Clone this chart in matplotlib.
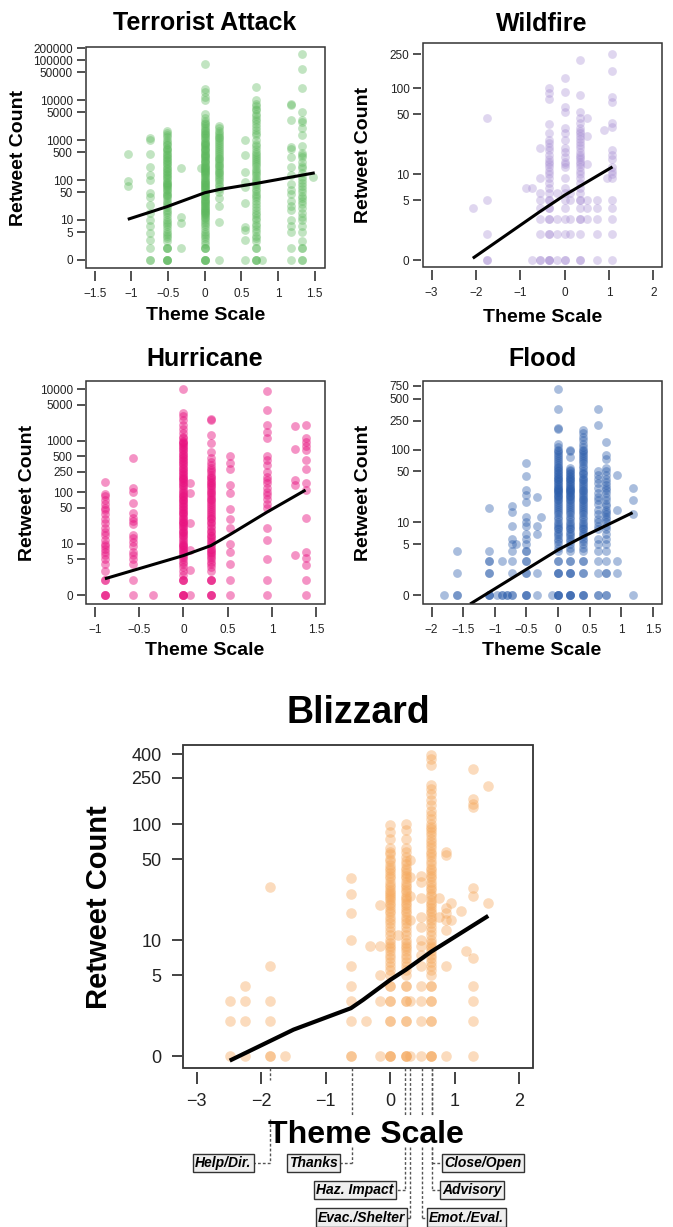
import matplotlib
matplotlib.use("Agg")
import matplotlib.pyplot as plt
import numpy as np
from matplotlib.lines import Line2D
from matplotlib.patches import Rectangle
from matplotlib.ticker import NullLocator

plt.rcParams['font.family'] = ['Liberation Sans', 'DejaVu Sans']

# ---- Terrorist Attack ----
terror_x = [-1.05, -0.75, -0.52, -0.32, -0.05, 0.0, 0.2, 0.55, 0.7, 0.78, 1.18, 1.32, 1.48]
terror_y = [
    [450, 95, 70],
    [1130, 1000, 435, 210, 130, 100, 46, 38, 24, 15, 10, 7, 4.6, 3.2, 2, 0, 0],
    [1700, 1500, 1300, 1200, 1000, 900, 800, 750, 650, 600, 550, 500, 460, 420, 380, 350,
     320, 300, 270, 250, 220, 200, 190, 170, 160, 140, 130, 120, 110, 100, 90, 85, 80, 75,
     70, 65, 60, 55, 50, 45, 42, 40, 35, 30, 27, 24, 21, 18, 16, 14, 12, 10, 9, 8, 7, 6,
     5, 4.5, 4, 3.5, 3, 2, 2, 2, 0, 0, 0, 0],
    [195, 12, 8.5, 2],
    [200],
    [80000, 19000, 16000, 12000, 10000, 4500, 3500, 3000, 2700, 2500, 2200, 2000, 1800,
     1650, 1500, 1400, 1300, 1200, 1100, 1000, 900, 850, 800, 750, 700, 650, 600, 550, 520,
     480, 450, 420, 400, 370, 350, 320, 300, 280, 260, 240, 230, 210, 200, 190, 180, 170,
     160, 150, 140, 130, 120, 110, 100, 95, 90, 85, 80, 75, 70, 66, 62, 58, 55, 51, 48, 45,
     42, 40, 37, 34, 32, 30, 28, 26, 25, 23, 22, 20, 19, 18, 17, 16, 15, 14, 13, 12, 11,
     10, 9, 8, 7, 6, 5, 4.5, 4, 3.5, 3, 2.5, 2, 2, 2, 0, 0, 0, 0],
    [2300, 2000, 1700, 1500, 1350, 1200, 1100, 1000, 900, 800, 700, 650, 550, 500, 450, 400,
     360, 330, 300, 270, 240, 220, 200, 180, 160, 150, 135, 120, 105, 95, 80, 70, 60, 50,
     35, 22, 9, 0],
    [1000, 420, 160, 90, 68, 26, 6.8, 5.6, 3.2, 0],
    [21000, 10000, 8000, 7000, 6000, 5500, 4500, 4000, 3400, 3000, 2500, 2100, 1800, 1500,
     1300, 1000, 800, 700, 600, 500, 450, 400, 350, 310, 280, 250, 220, 190, 170, 150, 130,
     115, 100, 90, 80, 70, 60, 52, 45, 40, 35, 30, 25, 21, 18, 15, 13, 11, 10, 8, 7, 6, 5,
     4, 3.5, 3, 2, 2, 0, 0, 0],
    [0],
    [8000, 7500, 3100, 680, 600, 380, 210, 130, 80, 55, 45, 30, 22, 18, 10, 7, 5, 2, 0],
    [140000, 60000, 20000, 5000, 3200, 2800, 2000, 1300, 700, 480, 420, 380, 280, 220, 200,
     150, 120, 100, 85, 70, 60, 50, 40, 35, 30, 25, 20, 15, 12, 10, 7, 5, 3, 2, 2, 0, 0],
    [120],
]
terror_fit_x = [-1.05, -0.52, 0.0, 0.2, 0.7, 1.5]
terror_fit_y = [10.4, 21.4, 48, 58, 82, 151]

# ---- Wildfire ----
wild_x = [-2.07, -1.75, -0.86, -0.74, -0.56, -0.35, -0.18, 0.0, 0.13, 0.35, 0.5, 0.72, 0.88, 0.95, 1.08]
wild_y = [
    [4],
    [45, 5, 2, 0, 0],
    [7],
    [7, 0],
    [20, 9, 6, 5, 4, 3, 2, 0, 0],
    [100, 88, 76, 39, 30, 25, 23, 21, 19, 17, 15, 14, 13, 12, 11, 10, 9, 8, 7, 6, 5, 5, 4,
     4, 3, 3, 2, 2, 0, 0, 0],
    [6, 3, 2, 0],
    [134, 92, 61, 53, 35, 30, 25, 20, 18, 16, 14, 13, 12, 9, 7, 6, 5, 4, 3, 2, 0, 0],
    [6, 5, 3, 2],
    [215, 84, 53, 45, 40, 35, 32, 30, 28, 26, 24, 22, 20, 18, 17, 16, 15, 14, 13, 12, 11,
     10, 9, 8, 7, 6, 5, 5, 4, 3, 3, 2, 0, 0],
    [45, 28, 13, 5, 4, 3],
    [5, 4, 3, 2, 0],
    [33],
    [9],
    [250, 160, 80, 70, 40, 36, 19, 17, 15, 12, 11, 10, 9, 5, 4, 3, 2, 0],
]
wild_fit_x = [-2.07, -0.56, 0.0, 1.08]
wild_fit_y = [1.05, 3.66, 5.7, 12.2]

# ---- Hurricane ----
hurr_x = [-0.886, -0.566, -0.34, 0.0, 0.075, 0.31, 0.53, 0.94, 1.26, 1.38]
hurr_y = [
    [155, 92, 85, 70, 60, 50, 45, 38, 30, 25, 20, 17, 15, 12, 10, 9, 8, 7, 6, 5, 4, 3, 2,
     2, 0, 0, 0],
    [450, 118, 100, 62, 39, 32, 28, 24, 15, 13, 11, 9, 7, 6, 5, 4, 2, 0],
    [0],
    [10000, 3400, 3000, 2500, 2000, 1700, 1400, 1200, 1100, 1000, 950, 900, 850, 800, 750,
     700, 650, 600, 560, 520, 480, 450, 420, 400, 370, 350, 320, 300, 280, 260, 245, 230,
     215, 200, 190, 180, 170, 160, 150, 140, 130, 120, 110, 100, 95, 90, 85, 80, 75, 70,
     66, 62, 58, 55, 52, 48, 45, 42, 40, 37, 35, 32, 30, 28, 27, 25, 24, 22, 21, 19, 18,
     17, 16, 15, 14, 13, 12, 11, 10, 9.5, 9, 8.5, 8, 7.5, 7, 6.5, 6, 5.5, 5, 4.5, 4, 3.5,
     3, 2.5, 2, 2, 2, 0, 0, 0, 0],
    [150, 95, 25, 7.6, 3.1, 0],
    [2600, 2500, 1300, 900, 600, 450, 380, 340, 300, 270, 250, 220, 200, 185, 170, 160,
     150, 140, 130, 120, 110, 100, 95, 88, 80, 75, 70, 65, 60, 55, 50, 46, 42, 38, 35, 32,
     30, 27, 25, 22, 20, 18, 17, 15, 14, 13, 12, 11, 10, 9, 8, 7.5, 7, 6.5, 6, 5.5, 5,
     4.5, 4, 3.5, 3, 2, 2, 2, 0, 0, 0],
    [500, 360, 280, 140, 95, 48, 30, 20, 10, 7, 4, 2, 0],
    [9000, 3900, 2000, 1500, 1100, 500, 420, 330, 250, 200, 175, 150, 120, 100, 90, 75, 60,
     50, 20, 12, 5, 2, 0],
    [1900, 700, 170, 140, 6],
    [2000, 1100, 950, 800, 650, 420, 280, 150, 110, 31, 7, 5.2, 3.9, 2, 0],
]
hurr_fit_x = [-0.886, 0.0, 0.31, 0.53, 0.94, 1.38]
hurr_fit_y = [2.1, 5.9, 9.2, 15.2, 40.6, 110]

# ---- Flood ----
flood_x = [-1.81, -1.59, -1.09, -0.97, -0.89, -0.81, -0.72, -0.67, -0.5, -0.33, -0.27, -0.1,
           0.0, 0.19, 0.4, 0.63, 0.76, 0.93, 1.18]
flood_y = [
    [0],
    [4, 2, 0, 0],
    [16, 4, 3, 3, 2, 2, 0, 0, 0],
    [0],
    [3, 0, 0],
    [0, 0],
    [17, 14, 9, 6, 5, 4, 3, 2, 0, 0],
    [5],
    [65, 44, 28, 24, 19, 12, 10, 9, 7, 6, 5, 4, 4, 3, 3, 2, 2, 0, 0, 0],
    [22, 9, 7, 2, 0],
    [12],
    [0],
    [680, 355, 200, 190, 120, 110, 100, 95, 90, 85, 80, 75, 70, 66, 62, 58, 55, 52, 50, 48,
     46, 44, 42, 40, 39, 37, 36, 34, 33, 31, 30, 29, 28, 27, 26, 25, 24, 23, 22, 21, 20, 19,
     18, 17, 16, 15, 14, 13, 12, 11, 10, 9.5, 9, 8.5, 8, 7.5, 7, 6.5, 6, 5.5, 5, 4.5, 4, 3,
     3, 2, 2, 2, 0, 0, 0, 0],
    [100, 95, 80, 55, 52, 50, 48, 46, 44, 42, 40, 39, 37, 36, 34, 33, 31, 30, 29, 28, 27,
     26, 25, 24, 23, 22, 21, 20, 19, 18, 17, 16, 15, 14, 13, 12, 11, 10, 9.5, 9, 8.5, 8,
     7.5, 7, 6.5, 6, 5.5, 5, 4.5, 4, 3, 3, 2, 2, 2, 0, 0, 0, 0],
    [185, 170, 150, 135, 120, 110, 100, 95, 90, 85, 80, 75, 70, 65, 60, 55, 50, 48, 46, 42,
     40, 38, 36, 34, 32, 30, 28, 27, 25, 24, 22, 21, 20, 19, 18, 17, 16, 15, 14, 13, 12,
     11, 10, 9.5, 9, 8.5, 8, 7.5, 7, 6.5, 6, 5.5, 5, 4.5, 4, 3, 3, 2, 2, 0, 0, 0],
    [355, 215, 50, 45, 40, 35, 30, 25, 22, 20, 18, 15, 13, 11, 10, 9, 8, 6, 5, 4, 3, 2, 0, 0],
    [128, 84, 75, 55, 50, 45, 40, 36, 33, 30, 28, 25, 22, 20, 18, 17, 15, 14, 13, 12, 11,
     10, 9, 8, 7, 6, 5, 4, 3, 2, 2, 0, 0],
    [45, 15, 3, 2],
    [30, 20, 13, 0],
]
flood_fit_x = [-1.39, 0.0, 0.4, 1.18]
flood_fit_y = [0.76, 4.2, 6.4, 13.6]

# ---- Blizzard ----
bliz_x = [-2.49, -2.25, -1.87, -1.63, -0.61, -0.38, -0.32, -0.16, 0.0, 0.12, 0.24, 0.3,
          0.47, 0.64, 0.75, 0.87, 0.95, 1.1, 1.17, 1.28, 1.52]
bliz_y = [
    [3, 2, 0],
    [4, 3, 2, 0],
    [29, 6, 3, 2, 0, 0],
    [0],
    [34, 25, 17, 10, 6, 4, 3, 2, 0, 0],
    [2],
    [9],
    [20, 9, 5, 3, 0],
    [98, 85, 75, 62, 58, 55, 50, 48, 44, 42, 40, 38, 36, 34, 32, 30, 29, 27, 26, 25, 24,
     23, 22, 21, 20, 19, 18, 17, 16, 15, 14, 13, 12, 11, 10, 9.5, 9, 8.5, 8, 7.5, 7, 6.5,
     6, 5.5, 5, 4, 4, 3, 3, 2, 2, 0, 0, 0],
    [11],
    [100, 88, 75, 62, 58, 52, 48, 45, 42, 40, 38, 36, 34, 32, 30, 29, 27, 26, 24, 23, 22,
     21, 20, 19, 18, 17, 16, 15, 14, 13, 12, 11, 10, 9.5, 9, 8.5, 8, 7.5, 7, 6.5, 6, 5.5,
     5, 4, 4, 3, 3, 2, 2, 0, 0, 0],
    [49, 35, 24, 15, 3, 0],
    [36, 32, 23, 16, 13, 10, 9, 7.5, 6, 4, 3, 2, 0],
    [390, 360, 320, 215, 200, 180, 160, 145, 130, 120, 110, 100, 95, 90, 85, 80, 75, 70, 66,
     62, 58, 55, 52, 48, 45, 42, 40, 38, 36, 34, 32, 30, 28, 27, 25, 24, 22, 21, 20, 19,
     18, 17, 16, 15, 14, 13, 12, 11, 10, 9.5, 9, 8.5, 8, 7.5, 7, 6.5, 6, 5.5, 5, 4, 4, 3,
     3, 2, 2, 0, 0, 0],
    [23, 16],
    [58, 54, 19, 17, 15, 12.3, 6, 0],
    [21, 15],
    [18],
    [8],
    [300, 165, 150, 140, 28, 24, 7, 4, 3, 2, 0],
    [213, 21],
]
bliz_fit_x = [-2.49, -1.5, -0.61, -0.42, 0.0, 0.24, 0.64, 1.52]
bliz_fit_y = [0.92, 1.7, 2.6, 3.07, 4.56, 5.56, 8.0, 16.2]

theme_labels = ["Help/Dir.", "Thanks", "Haz. Impact", "Evac./Shelter", "Emot./Eval.",
                "Close/Open", "Advisory"]
theme_pos = [-1.87, -0.60, 0.23, 0.31, 0.49, 0.65, 0.65]

W, H = 673, 1227
fig = plt.figure(figsize=(W / 100, H / 100), dpi=100)


def fx(px):
    return px / W


def fy(py):
    return 1 - py / H


def panel(rect, cols, vals, color, alpha, size, fit_x, fit_y, lw, yticks, ylim,
          xticks, xlim, tick_fs, big=False):
    l, r, t, b = rect
    ax = fig.add_axes([fx(l), fy(b), fx(r) - fx(l), fy(t) - fy(b)])
    xs = np.repeat(cols, [len(v) for v in vals])
    ys = np.maximum(np.concatenate(vals), 1)
    ax.scatter(xs, ys, s=size, color=color, alpha=alpha, linewidths=0, zorder=2)
    ax.plot(fit_x, fit_y, color='black', lw=lw, zorder=3, solid_capstyle='butt')
    ax.set_yscale('log')
    ax.set_ylim(ylim)
    ax.set_xlim(xlim)
    ax.yaxis.set_minor_locator(NullLocator())
    ax.set_yticks([max(v, 1) for v in yticks])
    ax.set_yticklabels([str(v) for v in yticks])
    ax.set_xticks(xticks)
    ax.set_xticklabels([('%g' % v).replace('-', '\u2212') for v in xticks])
    for s in ax.spines.values():
        s.set_visible(False)
    if big:
        ax.spines['bottom'].set_position(('outward', 2.5))
        ax.spines['left'].set_position(('outward', 1.2))
        ax.tick_params(axis='x', length=8.5, width=1.2, pad=7, labelsize=tick_fs)
        ax.tick_params(axis='y', length=7.5, width=1.2, pad=7, labelsize=tick_fs)
    else:
        ax.spines['bottom'].set_position(('outward', 2.2))
        ax.spines['left'].set_position(('outward', 1.0))
        ax.tick_params(axis='x', length=7, width=1.1, pad=5, labelsize=tick_fs)
        ax.tick_params(axis='y', length=6, width=1.1, pad=2.5, labelsize=tick_fs)
    ax.tick_params(colors='#222222')
    ax.add_patch(Rectangle((0, 0), 1, 1, transform=ax.transAxes, fill=False,
                           lw=1.3 if big else 1.1, ec='#333333', clip_on=False, zorder=4))
    return ax


green, lav, pink, blue, orange = '#5cb85c', '#a58bd2', '#e8117f', '#2a5caa', '#f5a75a'

ax1 = panel((86, 325, 47, 268), terror_x, terror_y, green, 0.38, 40, terror_fit_x, terror_fit_y,
            2.2, [0, 5, 10, 50, 100, 500, 1000, 5000, 10000, 50000, 100000, 200000],
            (0.63, 212000), [-1.5, -1, -0.5, 0, 0.5, 1, 1.5], (-1.62, 1.64), 8.5)
ax2 = panel((422.7, 661.7, 43, 267), wild_x, wild_y, lav, 0.35, 40, wild_fit_x, wild_fit_y,
            2.2, [0, 5, 10, 50, 100, 250], (0.83, 339), [-3, -2, -1, 0, 1, 2], (-3.2, 2.19), 8.5)
ax3 = panel((86, 325, 381, 604), hurr_x, hurr_y, pink, 0.45, 40, hurr_fit_x, hurr_fit_y,
            2.2, [0, 5, 10, 50, 100, 250, 500, 1000, 5000, 10000], (0.68, 14300),
            [-1, -0.5, 0, 0.5, 1, 1.5], (-1.10, 1.60), 8.5)
ax4 = panel((422.7, 661.7, 381, 604), flood_x, flood_y, blue, 0.4, 40, flood_fit_x, flood_fit_y,
            2.2, [0, 5, 10, 50, 100, 250, 500, 750], (0.76, 871),
            [-2, -1.5, -1, -0.5, 0, 0.5, 1, 1.5], (-2.14, 1.64), 8.5)
ax5 = panel((183.3, 532.7, 745, 1068.3), bliz_x, bliz_y, orange, 0.4, 58, bliz_fit_x, bliz_fit_y,
            3.0, [0, 5, 10, 50, 100, 250, 400], (0.79, 479), [-3, -2, -1, 0, 1, 2],
            (-3.21, 2.21), 13, big=True)

# titles and axis labels
titles = [("Terrorist Attack", 205, 30), ("Wildfire", 542, 30.7), ("Hurricane", 205, 365.7),
          ("Flood", 542, 365.7)]
for txt, x, y in titles:
    fig.text(fx(x), fy(y), txt, ha='center', va='baseline', fontsize=18, fontweight='bold')
fig.text(fx(358), fy(723), "Blizzard", ha='center', va='baseline', fontsize=27,
         fontweight='bold')

for x, y in [(206, 320), (543, 321.7), (205, 655), (542, 655)]:
    fig.text(fx(x), fy(y), "Theme Scale", ha='center', va='baseline', fontsize=14,
             fontweight='bold')
for x, y in [(19, 157.5), (364, 155), (27.5, 492.5), (364, 492.5)]:
    fig.text(fx(x), fy(y), "Retweet Count", ha='center', va='center', rotation=90,
             fontsize=14, fontweight='bold')
fig.text(fx(366), fy(1143.3), "Theme Scale", ha='center', va='baseline', fontsize=23,
         fontweight='bold')
fig.text(fx(99), fy(906.7), "Retweet Count", ha='center', va='center', rotation=90,
         fontsize=21, fontweight='bold')

# theme annotations under the blizzard panel
box_rows = [1163, 1163, 1190, 1217.5, 1217.5, 1163, 1190]
box_edges = [254, 340, 396, 407.7, 426.7, 441.7, 440]
box_sides = ['right', 'right', 'right', 'right', 'left', 'left', 'left']
dash = dict(color='#555555', lw=1.0, ls=(0, (2, 1.5)), zorder=1)
for lab, pos, row, edge, side in zip(theme_labels, theme_pos, box_rows, box_edges, box_sides):
    xd = ax5.transData.transform((pos, 1))[0]
    if lab == "Help/Dir.":
        segs = [(1068.3, 1080), (1119, row)]
    else:
        segs = [(1068.3, 1115), (1147, row)]
    for y0, y1 in segs:
        fig.add_artist(Line2D([fx(xd), fx(xd)], [fy(y0), fy(y1)], **dash))
    pad_px = 2.5
    tx = edge - pad_px if side == 'right' else edge + pad_px
    fig.add_artist(Line2D([fx(xd), fx(tx)], [fy(row), fy(row)], **dash))
    fig.text(fx(tx), fy(row), lab, ha=side, va='center', fontsize=10, fontweight='bold',
             fontstyle='italic', zorder=5,
             bbox=dict(boxstyle='square,pad=0.15', fc='#eeeeee', ec='#333333', lw=1.0))

fig.savefig('out.png', dpi=100, facecolor='white')
